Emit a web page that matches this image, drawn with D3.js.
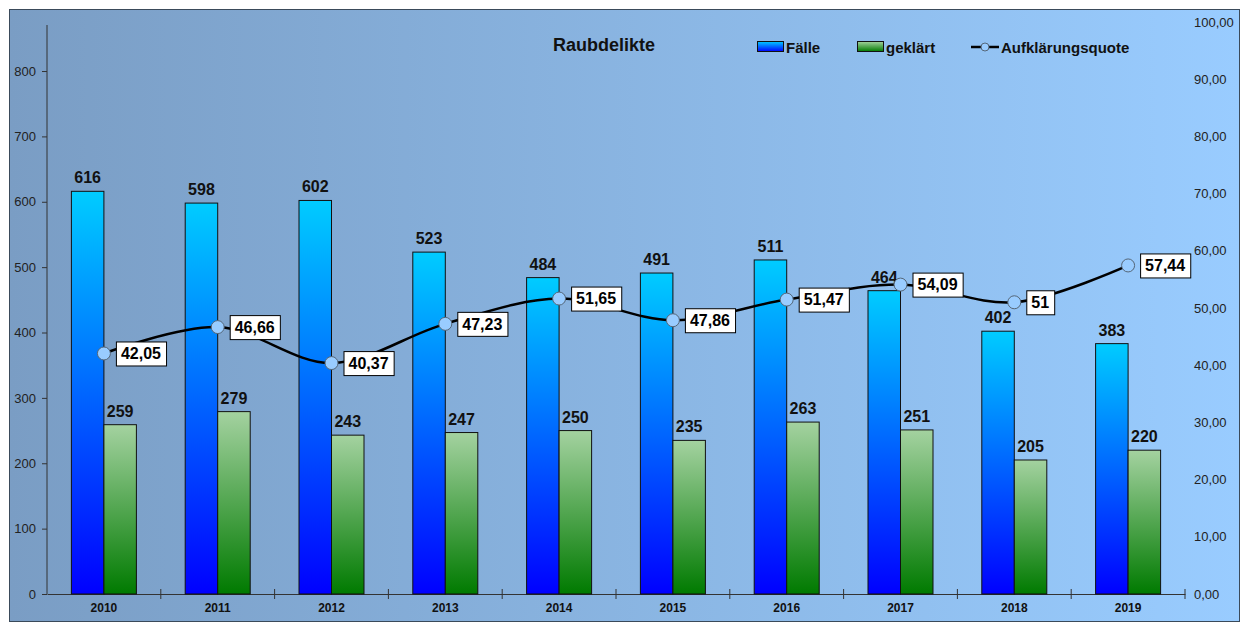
<!DOCTYPE html>
<html>
<head>
<meta charset="utf-8">
<script src="https://cdnjs.cloudflare.com/ajax/libs/d3/7.8.5/d3.min.js"></script>
<style>
  body { margin: 0; background: #fff; }
  text { font-family: "Liberation Sans", Arial, sans-serif; }
</style>
</head>
<body>
<div id="chart"></div>
<script>
// data
var years = ["2010","2011","2012","2013","2014","2015","2016","2017","2018","2019"];
var faelle = [616, 598, 602, 523, 484, 491, 511, 464, 402, 383];
var geklaert = [259, 279, 243, 247, 250, 235, 263, 251, 205, 220];
var quote = [42.05, 46.66, 40.37, 47.23, 51.65, 47.86, 51.47, 54.09, 51, 57.44];
var leftTicks = [0, 100, 200, 300, 400, 500, 600, 700, 800];
var rightTicks = [0, 10, 20, 30, 40, 50, 60, 70, 80, 90, 100];

var W = 1241, H = 625;
var plot = {left: 47, right: 1185, top: 22, bottom: 594};

var svg = d3.select("#chart").append("svg")
    .attr("width", W)
    .attr("height", H);

var defs = svg.append("defs");
var bg = defs.append("linearGradient").attr("id", "bg")
    .attr("x1", "0%").attr("x2", "100%").attr("y1", "0%").attr("y2", "0%");
bg.append("stop").attr("offset", "0%").attr("stop-color", "#7a9dc4");
bg.append("stop").attr("offset", "100%").attr("stop-color", "#99ccff");

var gBlue = defs.append("linearGradient").attr("id", "gBlue")
    .attr("x1", "0%").attr("x2", "0%").attr("y1", "0%").attr("y2", "100%");
gBlue.append("stop").attr("offset", "0%").attr("stop-color", "#00ccff");
gBlue.append("stop").attr("offset", "100%").attr("stop-color", "#0000ff");

var gGreen = defs.append("linearGradient").attr("id", "gGreen")
    .attr("x1", "0%").attr("x2", "0%").attr("y1", "0%").attr("y2", "100%");
gGreen.append("stop").attr("offset", "0%").attr("stop-color", "#a4d2a0");
gGreen.append("stop").attr("offset", "100%").attr("stop-color", "#007a00");

// chart area
svg.append("rect")
    .attr("x", 9.5).attr("y", 9.5)
    .attr("width", 1230).attr("height", 612)
    .attr("fill", "url(#bg)")
    .attr("stroke", "#3a4a5a")
    .attr("stroke-width", 1);

var x = d3.scaleBand().domain(years).range([plot.left, plot.right]).padding(0);
var yL = d3.scaleLinear().domain([0, 875]).range([plot.bottom, plot.top]);
var yR = d3.scaleLinear().domain([0, 100]).range([plot.bottom, plot.top]);

var barW = 32.5;

// left axis
var leftAxis = svg.append("g")
    .attr("transform", "translate(" + plot.left + ",0)")
    .call(d3.axisLeft(yL).tickValues(leftTicks).tickSize(5).tickSizeOuter(0).tickPadding(6));
leftAxis.select(".domain").attr("stroke", "#333").attr("d", "M0," + plot.bottom + "V25");
leftAxis.selectAll(".tick line").attr("stroke", "#333");
leftAxis.selectAll("text").attr("font-size", 13).attr("fill", "#222")
    .style("font-family", "Liberation Sans, Arial, sans-serif");

// right axis labels (no line)
var rightAxis = svg.append("g")
    .attr("transform", "translate(" + plot.right + ",0)")
    .call(d3.axisRight(yR).tickValues(rightTicks).tickSize(0).tickPadding(9)
        .tickFormat(function(d){ return d3.format(".2f")(d).replace(".", ","); }));
rightAxis.select(".domain").remove();
rightAxis.selectAll("text").attr("font-size", 13).attr("fill", "#222")
    .style("font-family", "Liberation Sans, Arial, sans-serif");

// x axis
var xAxis = svg.append("g")
    .attr("transform", "translate(0," + plot.bottom + ")")
    .call(d3.axisBottom(x).tickSize(0).tickPadding(9));
xAxis.select(".domain").attr("stroke", "#333");
xAxis.selectAll("text").attr("font-size", 12).attr("font-weight", "bold").attr("fill", "#111")
    .style("font-family", "Liberation Sans, Arial, sans-serif");
// category separators
svg.append("g").selectAll("line")
    .data(years.slice(1).concat(["end"]))
    .enter().append("line")
    .attr("x1", function(d, i){ return plot.left + (i + 1) * x.bandwidth(); })
    .attr("x2", function(d, i){ return plot.left + (i + 1) * x.bandwidth(); })
    .attr("y1", plot.bottom - 5)
    .attr("y2", plot.bottom + 5)
    .attr("stroke", "#333");

var cx = function(d, i){ return x(years[i]) + x.bandwidth() / 2; };

// bars
svg.append("g").selectAll("rect")
    .data(faelle).enter().append("rect")
    .attr("x", function(d, i){ return cx(d, i) - barW; })
    .attr("y", function(d){ return yL(d); })
    .attr("width", barW)
    .attr("height", function(d){ return plot.bottom - yL(d); })
    .attr("fill", "url(#gBlue)")
    .attr("stroke", "#111").attr("stroke-width", 1);

svg.append("g").selectAll("rect")
    .data(geklaert).enter().append("rect")
    .attr("x", function(d, i){ return cx(d, i); })
    .attr("y", function(d){ return yL(d); })
    .attr("width", barW)
    .attr("height", function(d){ return plot.bottom - yL(d); })
    .attr("fill", "url(#gGreen)")
    .attr("stroke", "#111").attr("stroke-width", 1);

// bar value labels
svg.append("g").selectAll("text")
    .data(faelle).enter().append("text")
    .attr("x", function(d, i){ return cx(d, i) - barW / 2; })
    .attr("y", function(d){ return yL(d) - 8; })
    .attr("text-anchor", "middle")
    .attr("font-size", 16).attr("font-weight", "bold").attr("fill", "#111")
    .text(function(d){ return d; });

svg.append("g").selectAll("text")
    .data(geklaert).enter().append("text")
    .attr("x", function(d, i){ return cx(d, i) + barW / 2; })
    .attr("y", function(d){ return yL(d) - 8; })
    .attr("text-anchor", "middle")
    .attr("font-size", 16).attr("font-weight", "bold").attr("fill", "#111")
    .text(function(d){ return d; });

// line
var line = d3.line()
    .x(function(d, i){ return cx(d, i); })
    .y(function(d){ return yR(d); })
    .curve(d3.curveCatmullRom.alpha(0.5));

svg.append("path")
    .datum(quote)
    .attr("d", line)
    .attr("fill", "none")
    .attr("stroke", "#000")
    .attr("stroke-width", 2.5);

svg.append("g").selectAll("circle")
    .data(quote).enter().append("circle")
    .attr("cx", function(d, i){ return cx(d, i); })
    .attr("cy", function(d){ return yR(d); })
    .attr("r", 6.5)
    .attr("fill", "#99ccff")
    .attr("stroke", "#556677").attr("stroke-width", 1);

// quote labels in boxes
var fmt = function(d){ return String(d).replace(".", ","); };
var lab = svg.append("g").selectAll("g")
    .data(quote).enter().append("g")
    .attr("transform", function(d, i){ return "translate(" + (cx(d, i) + 12) + "," + yR(d) + ")"; });
lab.append("text")
    .attr("x", 5).attr("y", 0).attr("dy", "0.36em")
    .attr("font-size", 16).attr("font-weight", "bold").attr("fill", "#000")
    .text(fmt);
lab.each(function(){
    var g = d3.select(this);
    var bb = g.select("text").node().getBBox();
    g.insert("rect", "text")
        .attr("x", 0.5).attr("y", -11.5)
        .attr("width", bb.width + 10).attr("height", 24)
        .attr("fill", "#fff").attr("stroke", "#000").attr("stroke-width", 1);
});

// title
svg.append("text")
    .attr("x", 604).attr("y", 51)
    .attr("text-anchor", "middle")
    .attr("font-size", 18).attr("font-weight", "bold").attr("fill", "#111")
    .text("Raubdelikte");

// legend
var legend = svg.append("g").attr("transform", "translate(0,47)");
legend.append("rect").attr("x", 757.5).attr("y", -5.5).attr("width", 26).attr("height", 10)
    .attr("fill", "url(#gBlue)").attr("stroke", "#111");
legend.append("text").attr("x", 786).attr("y", 6).attr("font-size", 15).attr("font-weight", "bold")
    .attr("fill", "#111").text("Fälle");
legend.append("rect").attr("x", 857.5).attr("y", -5.5).attr("width", 26).attr("height", 10)
    .attr("fill", "url(#gGreen)").attr("stroke", "#111");
legend.append("text").attr("x", 886).attr("y", 6).attr("font-size", 15).attr("font-weight", "bold")
    .attr("fill", "#111").text("geklärt");
legend.append("line").attr("x1", 971).attr("x2", 999).attr("y1", 0).attr("y2", 0)
    .attr("stroke", "#000").attr("stroke-width", 2.5);
legend.append("circle").attr("cx", 985).attr("cy", 0).attr("r", 4)
    .attr("fill", "#99ccff").attr("stroke", "#556677");
legend.append("text").attr("x", 1001).attr("y", 6).attr("font-size", 15).attr("font-weight", "bold")
    .attr("fill", "#111").text("Aufklärungsquote");
</script>
</body>
</html>
